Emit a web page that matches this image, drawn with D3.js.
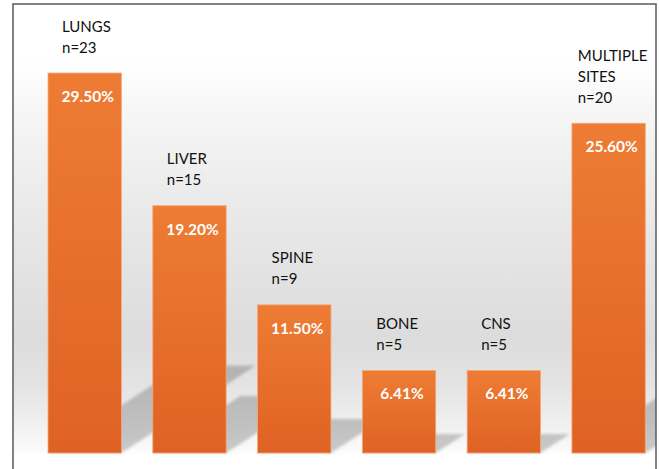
<!DOCTYPE html>
<html>
<head>
<meta charset="utf-8">
<script src="https://cdn.jsdelivr.net/npm/d3@7"></script>
<style>
  html, body { margin: 0; padding: 0; background: #ffffff; }
  svg { display: block; }
</style>
</head>
<body>
<svg id="chart" width="659" height="469"></svg>
<script>
// ---- data ----
const categories = ["LUNGS", "LIVER", "SPINE", "BONE", "CNS", "MULTIPLE SITES"];
const labelLines = [["LUNGS"], ["LIVER"], ["SPINE"], ["BONE"], ["CNS"], ["MULTIPLE", "SITES"]];
const counts = [23, 15, 9, 5, 5, 20];
const percents = [29.50, 19.20, 11.50, 6.41, 6.41, 25.60];
const percentLabels = ["29.50%", "19.20%", "11.50%", "6.41%", "6.41%", "25.60%"];

const W = 659, H = 469;
const frame = { left: 13, top: 4, right: 656 };
const base = 453;

const svg = d3.select("#chart");
const defs = svg.append("defs");

// background gradient
const bg = defs.append("linearGradient").attr("id", "bgGrad")
  .attr("x1", 0).attr("y1", 0).attr("x2", 0).attr("y2", 1);
[[0, "#ffffff"], [0.12, "#ffffff"], [0.3, "#f2f2f2"], [0.5, "#e7e7e7"],
 [0.74, "#dcdcdc"], [0.84, "#e3e3e3"], [0.93, "#f0f0f0"], [0.985, "#fafafa"], [1, "#ffffff"]]
  .forEach(([o, c]) => bg.append("stop").attr("offset", o).attr("stop-color", c));

// bar gradient
const bar = defs.append("linearGradient").attr("id", "barGrad")
  .attr("x1", 0).attr("y1", 0).attr("x2", 0).attr("y2", 1);
bar.append("stop").attr("offset", 0).attr("stop-color", "#ee7c34");
bar.append("stop").attr("offset", 1).attr("stop-color", "#df6224");

const blur = defs.append("filter").attr("id", "blur")
  .attr("x", "-20%").attr("y", "-20%").attr("width", "140%").attr("height", "140%");
blur.append("feGaussianBlur").attr("stdDeviation", 1.8);

defs.append("clipPath").attr("id", "plotClip")
  .append("rect").attr("x", frame.left).attr("y", frame.top)
  .attr("width", frame.right - frame.left).attr("height", base - frame.top + 2);

// background
svg.append("rect")
  .attr("x", frame.left).attr("y", frame.top)
  .attr("width", frame.right - frame.left).attr("height", base + 3 - frame.top)
  .attr("fill", "url(#bgGrad)");

// scales
const x = d3.scaleBand().domain(categories).range([32.3, 661])
  .paddingInner(0.3).paddingOuter(0.15);
const y = d3.scaleLinear().domain([0, 30]).range([base, base - 30 * 12.88]);

const data = categories.map((c, i) => ({
  cat: c, lines: labelLines[i], n: counts[i], p: percents[i], pl: percentLabels[i]
}));

// shadows
const slope = 0.65, ratio = 0.23;
svg.append("g").attr("clip-path", "url(#plotClip)")
  .selectAll("path").data(data).join("path")
  .attr("d", d => {
    const x0 = x(d.cat), x1 = x0 + x.bandwidth();
    const h = y(0) - y(d.p);
    const dy = h * ratio, dx = dy / slope;
    return `M${x0},${y(0)}L${x1},${y(0)}L${x1 + dx},${y(0) - dy}L${x0 + dx},${y(0) - dy}Z`;
  })
  .attr("fill", "#000")
  .attr("fill-opacity", 0.2)
  .attr("filter", "url(#blur)");

// bars
svg.append("g").selectAll("rect").data(data).join("rect")
  .attr("x", d => x(d.cat))
  .attr("y", d => y(d.p))
  .attr("width", x.bandwidth())
  .attr("height", d => y(0) - y(d.p))
  .attr("fill", "url(#barGrad)")
  .attr("stroke", "#f5a877")
  .attr("stroke-width", 0.8);

// percentage labels
svg.append("g").selectAll("text").data(data).join("text")
  .attr("x", d => x(d.cat) + x.bandwidth() / 2 + 3)
  .attr("y", d => y(d.p) + 29)
  .attr("text-anchor", "middle")
  .attr("font-family", "Lato, 'Open Sans', sans-serif")
  .attr("font-weight", "bold")
  .attr("font-size", 15.5)
  .attr("fill", "#ffffff")
  .text(d => d.pl);

// category labels
const lineH = 21;
const lab = svg.append("g").selectAll("text").data(data).join("text")
  .attr("font-family", "Lato, 'Open Sans', sans-serif")
  .attr("font-size", 15)
  .attr("fill", "#111111");
lab.each(function(d) {
  const t = d3.select(this);
  const lines = d.lines.concat(["n=" + d.n]);
  const top = y(d.p) - 20.5 - (lines.length - 1) * lineH;
  lines.forEach((s, k) => {
    t.append("tspan").attr("x", x(d.cat)).attr("y", top + k * lineH).text(s);
  });
  const w = this.getBBox().width;
  const off = Math.min(14, (x.bandwidth() - w) / 2 + 4);
  t.selectAll("tspan").attr("x", x(d.cat) + off);
});

// frame border
svg.append("rect")
  .attr("x", frame.left).attr("y", frame.top)
  .attr("width", frame.right - frame.left).attr("height", H + 10)
  .attr("fill", "none")
  .attr("stroke", "#5a5a5a")
  .attr("stroke-width", 1.5);
</script>
</body>
</html>
